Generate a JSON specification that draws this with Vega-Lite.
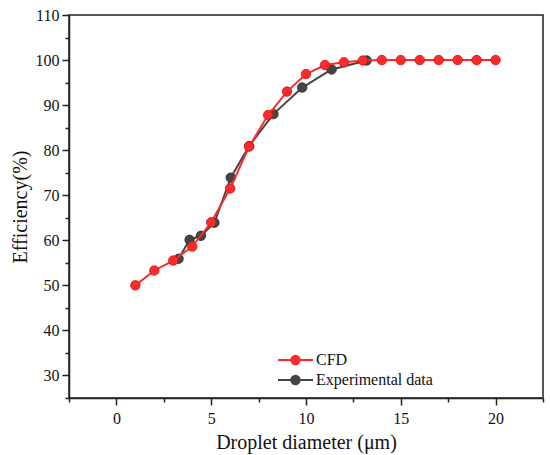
{
  "$schema": "https://vega.github.io/schema/vega-lite/v6.json",
  "width": 474,
  "height": 383,
  "autosize": "none",
  "padding": {"left": 69, "top": 15, "right": 7, "bottom": 57},
  "background": "white",
  "config": {
    "view": {"stroke": "#222222", "strokeWidth": 1.5},
    "font": "Liberation Serif",
    "axis": {
      "labelFont": "Liberation Serif",
      "titleFont": "Liberation Serif",
      "labelFontSize": 16,
      "titleFontSize": 20,
      "titleFontWeight": "normal",
      "labelColor": "#111111",
      "titleColor": "#111111",
      "domainColor": "#222222",
      "domainWidth": 1.5,
      "tickColor": "#222222",
      "tickWidth": 1.5,
      "tickSize": 7,
      "grid": false
    }
  },
  "datasets": {
    "pts": [
      {"series": "CFD", "d": 1, "eff": 50.0},
      {"series": "CFD", "d": 2, "eff": 53.3},
      {"series": "CFD", "d": 3, "eff": 55.5},
      {"series": "CFD", "d": 4, "eff": 58.6},
      {"series": "CFD", "d": 5, "eff": 64.0},
      {"series": "CFD", "d": 6, "eff": 71.5},
      {"series": "CFD", "d": 7, "eff": 80.8},
      {"series": "CFD", "d": 8, "eff": 87.8},
      {"series": "CFD", "d": 9, "eff": 93.0},
      {"series": "CFD", "d": 10, "eff": 96.9},
      {"series": "CFD", "d": 11, "eff": 98.9},
      {"series": "CFD", "d": 12, "eff": 99.5},
      {"series": "CFD", "d": 13, "eff": 99.9},
      {"series": "CFD", "d": 14, "eff": 100},
      {"series": "CFD", "d": 15, "eff": 100},
      {"series": "CFD", "d": 16, "eff": 100},
      {"series": "CFD", "d": 17, "eff": 100},
      {"series": "CFD", "d": 18, "eff": 100},
      {"series": "CFD", "d": 19, "eff": 100},
      {"series": "CFD", "d": 20, "eff": 100},
      {"series": "Experimental data", "d": 3.28, "eff": 55.9},
      {"series": "Experimental data", "d": 3.86, "eff": 60.1},
      {"series": "Experimental data", "d": 4.46, "eff": 61.0},
      {"series": "Experimental data", "d": 5.17, "eff": 63.9},
      {"series": "Experimental data", "d": 6.03, "eff": 73.9},
      {"series": "Experimental data", "d": 7.0, "eff": 80.9},
      {"series": "Experimental data", "d": 8.28, "eff": 88.0},
      {"series": "Experimental data", "d": 9.8, "eff": 93.9},
      {"series": "Experimental data", "d": 11.35, "eff": 97.9},
      {"series": "Experimental data", "d": 13.2, "eff": 99.9}
    ]
  },
  "data": {"name": "pts"},
  "encoding": {
    "color": {
      "field": "series", "type": "nominal",
      "scale": {"domain": ["CFD", "Experimental data"], "range": ["#ff2b2b", "#454545"]},
      "legend": {
        "title": null,
        "orient": "none",
        "legendX": 215.5,
        "legendY": 334,
        "symbolType": "M-1.75,0L1.75,0M-0.42,0A0.42,0.42 0 1,1 0.42,0A0.42,0.42 0 1,1 -0.42,0Z",
        "symbolSize": 400,
        "symbolStrokeWidth": 2,
        "labelFont": "Liberation Serif",
        "labelFontSize": 16,
        "labelColor": "#111111",
        "labelOffset": 9.5,
        "rowPadding": 0
      }
    }
  },
  "resolve": {"axis": {"x": "independent", "y": "independent"}},
  "layer": [
    {
      "transform": [{"filter": "datum.series == 'Experimental data'"}],
      "encoding": {
        "x": {
          "field": "d", "type": "quantitative",
          "scale": {"domain": [-2.5, 22.5], "nice": false, "zero": false},
          "axis": {"orient": "bottom", "title": "Droplet diameter (μm)", "values": [0, 5, 10, 15, 20], "labelPadding": 5, "titlePadding": 6}
        },
        "y": {
          "field": "eff", "type": "quantitative",
          "scale": {"domain": [25, 110], "nice": false, "zero": false},
          "axis": {"orient": "left", "title": "Efficiency(%)", "values": [30, 40, 50, 60, 70, 80, 90, 100, 110], "labelPadding": 3, "titlePadding": 5}
        }
      },
      "layer": [
        {"mark": {"type": "line", "strokeWidth": 2}},
        {"mark": {"type": "point", "filled": true, "size": 90, "opacity": 1, "stroke": "#2a2a2a", "strokeWidth": 0.8}}
      ]
    },
    {
      "transform": [{"filter": "datum.series == 'CFD'"}],
      "encoding": {
        "x": {
          "field": "d", "type": "quantitative",
          "scale": {"domain": [-2.5, 22.5], "nice": false, "zero": false},
          "axis": {"orient": "bottom", "title": null, "labels": false, "domain": false, "tickSize": 4, "values": [-2.5, 2.5, 7.5, 12.5, 17.5, 22.5]}
        },
        "y": {
          "field": "eff", "type": "quantitative",
          "scale": {"domain": [25, 110], "nice": false, "zero": false},
          "axis": {"orient": "left", "title": null, "labels": false, "domain": false, "tickSize": 4, "values": [25, 35, 45, 55, 65, 75, 85, 95, 105]}
        }
      },
      "layer": [
        {"mark": {"type": "line", "strokeWidth": 2}},
        {"mark": {"type": "point", "filled": true, "size": 90, "opacity": 1, "stroke": "#d01010", "strokeWidth": 0.8}}
      ]
    }
  ]
}
